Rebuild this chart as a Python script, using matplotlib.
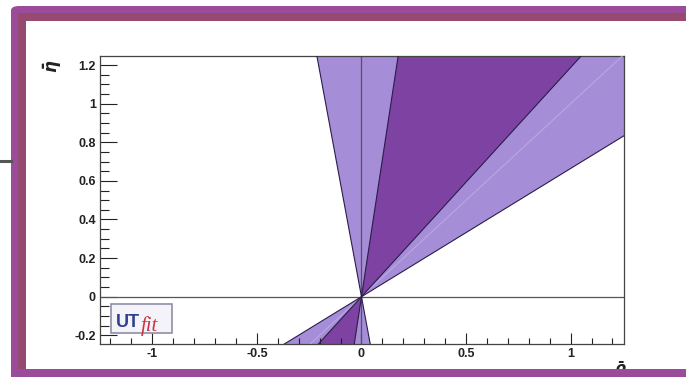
import numpy as np
import matplotlib.pyplot as plt
from matplotlib.patches import Rectangle, FancyBboxPatch, Polygon

plt.rcParams['font.family'] = ['Liberation Sans', 'DejaVu Sans']
plt.rcParams['font.weight'] = 'bold'

# ------------------------------------------------------------
# Wedge boundaries (angles in degrees, measured from the rho axis)
light_band = [33.6, 99.7]      # 95% region
dark_band = [49.9, 82.0]       # 68% region
central_angle = 45.0           # faint central line

x_ticks = [-1, -0.5, 0, 0.5, 1]
x_labels = ['-1', '-0.5', '0', '0.5', '1']
y_ticks = [-0.2, 0, 0.2, 0.4, 0.6, 0.8, 1.0, 1.2]
y_labels = ['-0.2', '0', '0.2', '0.4', '0.6', '0.8', '1', '1.2']

light_col = '#a68dd7'
dark_col = '#7e42a2'
edge_col = '#2a1d4a'
frame_purple = '#9a4b99'
frame_red = '#974a70'

W, H = 686, 377


def fx(px):
    return px / W


def fy(py):
    return 1 - py / H


fig = plt.figure(figsize=(W / 100, H / 100), dpi=100)
fig.patch.set_facecolor('white')

# ------------------------------------------------------------
# Outer slide frame
fig.add_artist(FancyBboxPatch((fx(11), fy(400)), fx(720) - fx(11), fy(6) - fy(400),
                              boxstyle='round,pad=0,rounding_size=0.012',
                              transform=fig.transFigure, fc=frame_purple, ec='none', zorder=-3))
fig.add_artist(Rectangle((fx(18), fy(369)), 1, fy(13) - fy(369),
                         transform=fig.transFigure, fc=frame_red, ec='none', zorder=-2))
fig.add_artist(Rectangle((fx(26), fy(369)), 1, fy(21) - fy(369),
                         transform=fig.transFigure, fc='white', ec='none', zorder=-1))
fig.add_artist(plt.Line2D([0, fx(11)], [fy(161), fy(161)], transform=fig.transFigure,
                          color='#555555', lw=2.2, zorder=-1))

# ------------------------------------------------------------
ax = fig.add_axes([fx(100), fy(344), fx(624) - fx(100), fy(56) - fy(344)])
ax.set_xlim(-1.25, 1.255)
ax.set_ylim(-0.245, 1.247)

R = 10.0


def wedge(a1, a2, color):
    for off in (0, 180):
        t1, t2 = np.radians(a1 + off), np.radians(a2 + off)
        pts = [[0, 0], [R * np.cos(t1), R * np.sin(t1)], [R * np.cos(t2), R * np.sin(t2)]]
        ax.add_patch(Polygon(pts, closed=True, fc=color, ec='none', zorder=1))


def ray(a, color, lw):
    t = np.radians(a)
    ax.plot([-R * np.cos(t), R * np.cos(t)], [-R * np.sin(t), R * np.sin(t)],
            color=color, lw=lw, zorder=3)


wedge(light_band[0], light_band[1], light_col)
wedge(dark_band[0], dark_band[1], dark_col)
ray(central_angle, '#b9a8e3', 0.8)
for a in light_band + dark_band:
    ray(a, edge_col, 0.8)

ax.axhline(0, color='#555555', lw=0.9, zorder=2)
ax.axvline(0, color='#555555', lw=0.9, zorder=2)

for s in ax.spines.values():
    s.set_color('#444444')
    s.set_linewidth(0.9)

ax.set_xticks(x_ticks)
ax.set_xticklabels(x_labels)
ax.set_yticks(y_ticks)
ax.set_yticklabels(y_labels)
ax.set_xticks(np.arange(-1.2, 1.25, 0.1), minor=True)
ax.set_yticks(np.arange(-0.2, 1.25, 0.05), minor=True)
ax.tick_params(axis='both', which='both', direction='in', colors='#222222',
               labelsize=9, width=0.8)
ax.tick_params(axis='y', which='major', length=12, pad=3)
ax.tick_params(axis='y', which='minor', length=6.5)
ax.tick_params(axis='x', which='major', length=8, pad=3)
ax.tick_params(axis='x', which='minor', length=4)

# axis titles
fig.text(fx(53), fy(66), r'$\bar{\eta}$', rotation=90, ha='center', va='center',
         fontsize=12, color='#222222')
fig.text(fx(620), fy(359), r'$\bar{\rho}$', ha='center', va='top',
         fontsize=11, color='#222222', zorder=0.5)
fig.add_artist(Rectangle((fx(11), 0), 1, fy(369), transform=fig.transFigure,
                         fc=frame_purple, ec='none', zorder=2))

# UTfit logo
fig.add_artist(Rectangle((fx(111), fy(333)), fx(172) - fx(111), fy(304) - fy(333),
                         transform=fig.transFigure, fc='#f5f3fa', ec='#8f8fa8',
                         lw=1.2, zorder=4))
fig.text(fx(116), fy(327), 'UT', fontsize=13, fontweight='bold', color='#2f3f8c',
         zorder=5)
fig.text(fx(141), fy(331), 'fit', fontsize=15, style='italic', fontweight='normal',
         color='#cc3344', family='Liberation Serif', zorder=5)

fig.savefig('out.png', dpi=100)
